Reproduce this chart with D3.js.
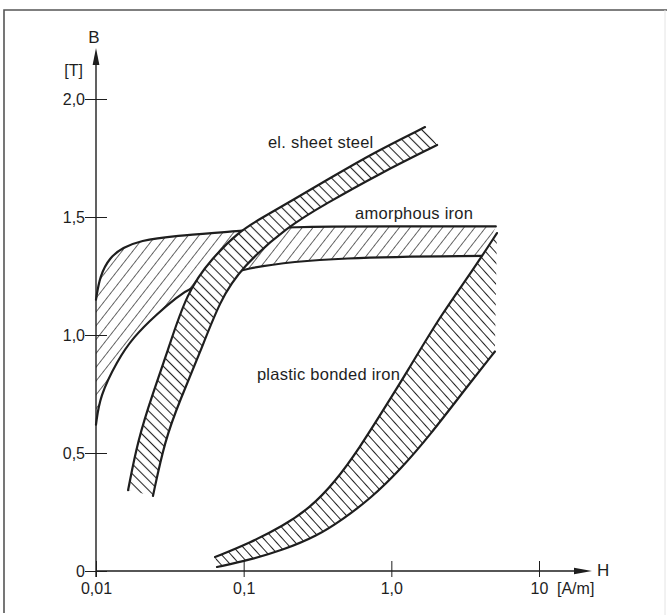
<!DOCTYPE html>
<html>
<head>
<meta charset="utf-8">
<script src="https://cdn.jsdelivr.net/npm/d3@7"></script>
<style>
  body { margin: 0; background: #fff; }
  svg { display: block; }
  text { font-family: "Liberation Sans", Arial, sans-serif; fill: #1e1e1e; font-size: 16px; }
  .lbl { font-size: 16.5px; letter-spacing: 0.25px; }
</style>
</head>
<body>
<svg id="chart" width="667" height="615"></svg>
<script>
// B(H) bands, H in A/m (log), B in T
const amorphousUpper = [[0.0100, 1.15], [0.0106, 1.25], [0.0124, 1.33], [0.0152, 1.37], [0.0199, 1.40],
                        [0.033, 1.42], [0.094, 1.44], [0.196, 1.46], [1.0, 1.46], [5.1, 1.46]];
const amorphousLower = [[0.0100, 0.62], [0.0106, 0.74], [0.0139, 0.89], [0.0178, 0.99], [0.0259, 1.09],
                        [0.0354, 1.16], [0.0433, 1.20], [0.098, 1.29], [0.45, 1.33], [4.2, 1.335]];
const steelUpper = [[0.0165, 0.343], [0.0192, 0.555], [0.0243, 0.754], [0.0303, 0.924], [0.041, 1.18],
                    [0.061, 1.326], [0.0944, 1.441], [0.129, 1.492], [0.216, 1.572], [0.367, 1.657],
                    [0.751, 1.771], [1.69, 1.881]];
const steelLower = [[0.0243, 0.318], [0.0293, 0.555], [0.0371, 0.725], [0.0506, 0.924], [0.0692, 1.148],
                    [0.0975, 1.288], [0.196, 1.458], [0.367, 1.559], [0.80, 1.678], [2.04, 1.805]];
const plasticUpper = [[0.064, 0.059], [0.110, 0.119], [0.185, 0.191], [0.281, 0.267], [0.416, 0.377],
                      [0.614, 0.525], [0.878, 0.68], [1.277, 0.843], [2.14, 1.08], [3.57, 1.275], [5.19, 1.432]];
const plasticLower = [[0.066, 0.017], [0.110, 0.047], [0.185, 0.089], [0.314, 0.148], [0.471, 0.22],
                      [0.717, 0.305], [1.144, 0.428], [1.83, 0.576], [3.25, 0.78], [5.03, 0.93]];

const xTicks = [0.01, 0.1, 1, 10];
const xTickLabels = ["0,01", "0,1", "1,0", "10"];
const yTicks = [0, 0.5, 1, 1.5, 2];
const yTickLabels = ["0", "0,5", "1,0", "1,5", "2,0"];

const svg = d3.select("#chart");
const x = d3.scaleLog().domain([0.01, 10]).range([96, 539]);
const y = d3.scaleLinear().domain([0, 2]).range([571, 99]);
const ink = "#1e1e1e";

// frame of the scanned figure
svg.append("path").attr("d", "M4,613V10H667").attr("fill", "none").attr("stroke", "#555").attr("stroke-width", 1.6);
svg.append("line").attr("x1", 665).attr("x2", 665).attr("y1", 10).attr("y2", 615).attr("stroke", "#e4e4e4");

const defs = svg.append("defs");
function hatch(id, spacing, angle, width, color) {
    defs.append("pattern")
        .attr("id", id)
        .attr("patternUnits", "userSpaceOnUse")
        .attr("width", spacing).attr("height", spacing)
        .attr("patternTransform", "rotate(" + angle + ")")
      .append("line")
        .attr("x1", spacing / 2).attr("x2", spacing / 2)
        .attr("y1", 0).attr("y2", spacing)
        .attr("stroke", color).attr("stroke-width", width);
}
hatch("h-amorph", 8.5, 38, 0.8, "#444");
hatch("h-steel", 7, -45, 1.1, "#222");
hatch("h-plastic", 7, -42, 1.0, "#222");

const line = d3.line()
    .x(d => x(d[0]))
    .y(d => y(d[1]))
    .curve(d3.curveBasis);

const g = svg.append("g");
function band(upper, lower, pat) {
    const d = line(upper) + line(lower.slice().reverse()).replace(/^M/, "L") + "Z";
    g.append("path").attr("d", d).attr("fill", "#fff");
    g.append("path").attr("d", d).attr("fill", "url(#" + pat + ")");
    [upper, lower].forEach(c => {
        g.append("path").attr("d", line(c))
            .attr("fill", "none").attr("stroke", ink)
            .attr("stroke-width", 2.2).attr("stroke-linecap", "round");
    });
}
band(amorphousUpper, amorphousLower, "h-amorph");
band(plasticUpper, plasticLower, "h-plastic");
band(steelUpper, steelLower, "h-steel");

// axes
const axes = svg.append("g").attr("stroke", ink).attr("stroke-width", 1.4).attr("fill", "none");
const x0 = x(0.01), y0 = y(0);
axes.append("line").attr("x1", x0).attr("x2", x(10) + 46).attr("y1", y0).attr("y2", y0);
axes.append("line").attr("x1", x0).attr("x2", x0).attr("y1", y0 + 6).attr("y2", y(2) - 40);
svg.append("path").attr("fill", ink)
    .attr("d", `M${x(10) + 53},${y0}l-18,-3.2v6.4z`);
svg.append("path").attr("fill", ink)
    .attr("d", `M${x0},${y(2) - 51}l-3.4,17h6.8z`);

const yAxis = svg.append("g")
    .attr("transform", `translate(${x0},0)`)
    .call(d3.axisLeft(y).tickValues(yTicks).tickSize(11).tickFormat((d, i) => yTickLabels[i]));
yAxis.select(".domain").remove();
yAxis.selectAll(".tick line").attr("x1", -11).attr("x2", 11).attr("stroke", ink).attr("stroke-width", 1);
yAxis.selectAll(".tick text").attr("x", -11).attr("dy", "0.36em")
    .style("font-size", "16px").style("font-family", "Liberation Sans, Arial, sans-serif").attr("fill", ink);

const xAxis = svg.append("g")
    .attr("transform", `translate(0,${y0})`)
    .call(d3.axisBottom(x).tickValues(xTicks).tickSize(6).tickFormat((d, i) => xTickLabels[i]));
xAxis.select(".domain").remove();
xAxis.selectAll(".tick line").attr("y1", -10).attr("y2", 6).attr("stroke", ink).attr("stroke-width", 1);
xAxis.selectAll(".tick text").attr("y", 12).attr("dy", "0.71em")
    .style("font-size", "16px").style("font-family", "Liberation Sans, Arial, sans-serif").attr("fill", ink);

// axis titles and units
svg.append("text").attr("x", x0 - 2).attr("y", y(2) - 56).attr("text-anchor", "middle").style("font-size", "17px").text("B");
svg.append("text").attr("x", x0 - 13).attr("y", y(2) - 23).attr("text-anchor", "end").text("[T]");
svg.append("text").attr("x", x(10) + 58).attr("y", y0 + 5).style("font-size", "17px").text("H");
svg.append("text").attr("x", x(10) + 18).attr("y", y0 + 23).text("[A/m]");

// band labels
svg.append("text").attr("class", "lbl").attr("x", x(0.146)).attr("y", y(1.792)).text("el. sheet steel");
svg.append("text").attr("class", "lbl").attr("x", x(0.568)).attr("y", y(1.49)).text("amorphous iron");
svg.append("text").attr("class", "lbl").attr("x", x(0.123)).attr("y", y(0.81)).text("plastic bonded iron");
</script>
</body>
</html>
